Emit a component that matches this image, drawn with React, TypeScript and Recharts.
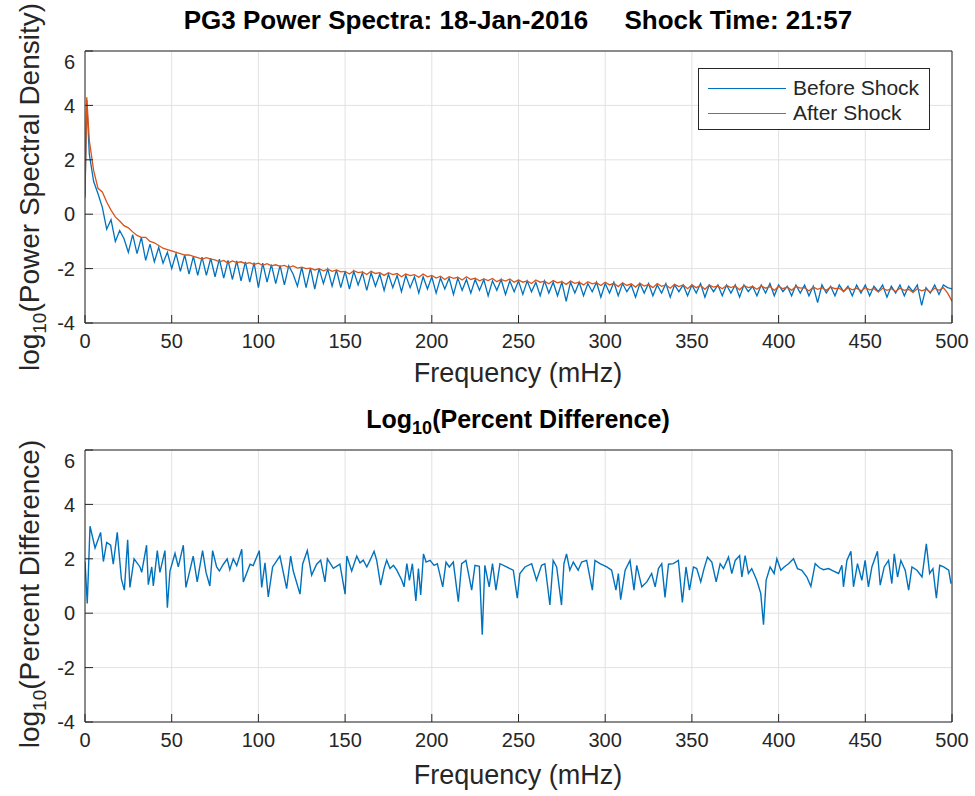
import { LineChart, Line, XAxis, YAxis, CartesianGrid } from 'recharts';

// top panel: shared frequency bins (mHz)
const freq = [0, 1, ...Array.from({ length: 200 }, (_, i) => 2.5 * (i + 1))];

const beforeShock = [
  0.7, 4.2,
  2.2, 1.2, 0.75, 0.25, -0.55, -0.2, -1.0, -0.6, -0.9,
  -1.4, -0.75, -1.45, -0.85, -1.7, -1.1, -1.75, -1.22, -1.8, -1.4,
  -2.0, -1.45, -2.1, -1.5, -2.2, -1.55, -2.25, -1.58, -2.25, -1.62,
  -2.3, -1.65, -2.35, -1.7, -2.4, -1.72, -2.45, -1.75, -2.5, -1.78,
  -2.7, -1.8, -2.5, -1.85, -2.55, -1.88, -2.6, -1.9, -2.2, -2.65,
  -1.95, -2.7, -1.98, -2.75, -2.0, -2.55, -2.02, -2.65, -2.05, -2.7,
  -2.1, -2.75, -2.1, -2.6, -2.15, -2.8, -2.15, -2.65, -2.2, -2.8,
  -2.2, -2.7, -2.25, -2.85, -2.25, -2.7, -2.3, -2.9, -2.3, -2.75,
  -2.3, -2.9, -2.35, -2.75, -2.35, -2.95, -2.35, -2.8, -2.4, -2.9,
  -2.4, -2.8, -2.4, -3.0, -2.45, -2.8, -2.4, -2.95, -2.45, -2.85,
  -2.45, -2.95, -2.45, -2.85, -2.5, -3.0, -2.45, -2.9, -2.5, -3.0,
  -2.5, -3.2, -2.5, -2.9, -2.5, -3.0, -2.55, -2.85, -2.5, -3.05,
  -2.55, -2.9, -2.5, -3.0, -2.55, -2.85, -2.6, -3.05, -2.55, -2.9,
  -2.55, -3.0, -2.6, -2.9, -2.55, -3.05, -2.6, -2.85, -2.6, -3.0,
  -2.6, -2.9, -2.55, -3.05, -2.6, -2.85, -2.6, -3.0, -2.6, -2.9,
  -2.6, -3.05, -2.6, -2.85, -2.65, -3.0, -2.6, -2.9, -2.55, -3.0,
  -2.6, -2.85, -2.65, -3.0, -2.6, -2.9, -2.6, -3.0, -2.65, -3.25,
  -2.6, -2.9, -2.65, -3.0, -2.6, -2.85, -2.65, -3.0, -2.6, -2.9,
  -2.6, -3.0, -2.65, -2.85, -2.6, -3.05, -2.65, -2.9, -2.6, -3.0,
  -2.65, -2.85, -2.6, -3.35, -2.7, -2.9, -2.6, -2.95, -2.6, -2.7,
  -2.75,
];

const afterShock = [
  0.6, 4.3,
  2.7, 1.6, 0.95, 0.82, 0.45, 0.15, -0.1, -0.25, -0.42,
  -0.5, -0.65, -0.78, -0.85, -0.85, -1.0, -1.05, -1.15, -1.25, -1.3,
  -1.35, -1.4, -1.45, -1.5, -1.5, -1.55, -1.6, -1.65, -1.6, -1.65,
  -1.68, -1.75, -1.7, -1.8, -1.72, -1.78, -1.75, -1.82, -1.78, -1.85,
  -1.8, -1.88, -1.82, -1.9, -1.86, -1.92, -1.88, -1.96, -1.9, -1.98,
  -1.95, -2.0, -1.98, -2.05, -2.0, -2.08, -2.02, -2.1, -2.05, -2.12,
  -2.1, -2.2, -2.08, -2.15, -2.12, -2.22, -2.1, -2.18, -2.15, -2.25,
  -2.15, -2.22, -2.18, -2.3, -2.2, -2.26, -2.22, -2.32, -2.2, -2.3,
  -2.25, -2.35, -2.28, -2.4, -2.3, -2.36, -2.32, -2.42, -2.3, -2.4,
  -2.35, -2.45, -2.38, -2.44, -2.36, -2.48, -2.4, -2.46, -2.38, -2.5,
  -2.42, -2.5, -2.45, -2.55, -2.42, -2.5, -2.46, -2.56, -2.44, -2.52,
  -2.48, -2.58, -2.46, -2.54, -2.5, -2.6, -2.48, -2.56, -2.52, -2.62,
  -2.5, -2.6, -2.54, -2.66, -2.52, -2.62, -2.56, -2.68, -2.54, -2.64,
  -2.58, -2.7, -2.55, -2.65, -2.6, -2.72, -2.58, -2.66, -2.6, -2.74,
  -2.6, -2.7, -2.62, -2.76, -2.6, -2.68, -2.64, -2.74, -2.62, -2.7,
  -2.64, -2.78, -2.62, -2.7, -2.66, -2.76, -2.64, -2.72, -2.66, -2.8,
  -2.65, -2.74, -2.68, -2.8, -2.66, -2.72, -2.7, -2.82, -2.68, -2.76,
  -2.7, -2.8, -2.68, -2.74, -2.72, -2.84, -2.7, -2.78, -2.72, -2.82,
  -2.7, -2.78, -2.74, -2.86, -2.72, -2.8, -2.74, -2.84, -2.72, -2.8,
  -2.76, -2.88, -2.74, -2.82, -2.76, -2.86, -2.72, -2.8, -2.7, -2.9,
  -3.2,
];

const diffFreq = [
  0, 1.3, 2.9, 5.8, 9, 10.6, 12.5, 14.8, 16.3, 18.6, 21, 22.7, 24.6, 25.9, 28.3,
  31.7, 32.7, 35.5, 36.5, 38.5, 39.4, 41.7, 43.2, 46.1, 47.5, 49, 51.9, 53.8,
  56.7, 58.2, 62.4, 64.7, 67.8, 69.8, 72, 73.6, 75.9, 77.5, 79.8, 82, 83.5, 85.5,
  87.5, 90.4, 91.3, 95.2, 97, 100.5, 101.9, 103.8, 105.7, 108.2, 112.4, 116.3,
  118.6, 120.1, 124, 125.5, 128.2, 130.7, 133.6, 135.9, 138.4, 139.8, 143.2,
  147, 150, 151, 153.8, 156.7,
  158.6, 160.5, 162.5, 164.4, 166.7, 168.2, 170.5, 172.5, 174, 175.9, 177.9,
  179.8, 182.7, 184, 185.6, 187.1, 188.8, 190.8, 192.3, 193.6, 195.2, 196.7,
  199, 201.3, 203.2, 206.3, 208.2, 210.1, 212.4, 215.3, 217.2, 219.7, 223,
  224.9, 227.4, 229.1, 230.6, 233.1, 235, 237, 239.3, 243.1, 247, 249.3, 250.8,
  253.7, 257.6, 260.4, 263.3, 265.2, 268.1, 270, 272, 274.8, 276.2, 277.7,
  279.6, 281.6, 284.4, 286.4, 289.3, 292.6, 294.1, 297, 300.9, 303.7, 306.2,
  307.6, 308.9, 311.5, 314.3, 316.6, 318.2, 321.1, 324, 326.8, 328.8, 330.7,
  332.6, 334.5, 336.5, 339.3, 342.2,
  344.5, 346.6, 348.6, 350.9, 352.8, 355.1, 357, 359, 361.5, 364, 366.3, 368.2,
  371.1, 373, 375, 377.5, 378.8, 380.7, 382.6, 384.5, 387.4, 389.7, 391.3,
  392.8, 395.1, 397.4, 399, 401.3, 403.2, 405.7, 408.6, 410.9, 413.4, 416.3,
  418.6, 421.1, 423.6, 425.9, 428.8, 431.7, 434.6, 436.5, 437.4, 439.4, 441.7,
  443.2, 445.5, 448, 449.9, 451.8, 453.8, 457, 458.6, 460.9, 463.4, 465.3,
  466.7, 468.6, 470.5, 473, 475, 476.9, 479.8, 482.7, 485.2, 487.1, 489, 491,
  492.9, 495.2, 498.1, 499.4,
];

const diffValue = [
  1.9, 0.36, 3.2, 2.4, 2.97, 1.9, 2.6, 2.5, 1.8, 2.97, 1.25, 0.85, 2.7, 0.95, 2.0,
  1.7, 1.5, 2.5, 1.05, 1.7, 1.0, 2.3, 1.5, 2.3, 0.2, 1.55, 2.2, 1.7,
  2.5, 0.95, 2.1, 1.15, 2.3, 1.5, 1.0, 2.3, 1.7, 1.55, 1.8, 2.0, 1.6, 2.0,
  1.75, 2.35, 1.15, 1.8, 1.75, 2.3, 0.95, 1.85, 0.6, 1.7, 2.1, 0.9,
  2.1, 1.55, 0.7, 1.8, 2.3, 1.4, 1.8, 1.95, 1.15, 2.0, 1.65,
  1.8, 0.7, 2.1, 1.55, 2.1,
  1.85, 1.95, 1.7, 1.95, 2.28, 1.95, 1.03, 1.64, 1.95, 1.64, 1.76,
  1.58, 1.21, 0.97, 1.82, 1.21, 1.82, 0.45, 1.64, 0.67, 2.18, 1.88,
  1.94, 1.76, 1.82, 0.97, 1.88, 1.7, 1.88, 0.42, 1.82, 1.94, 0.85,
  1.76, 1.72, -0.79, 1.76, 0.97, 1.82, 0.85, 1.82, 1.7, 1.58, 0.55, 1.46,
  1.7, 1.82, 1.21, 1.76, 1.82, 0.3, 1.94, 1.7, 0.3, 1.82, 2.18,
  1.58, 1.88, 1.58, 1.88, 1.94, 0.85, 1.94, 1.82, 1.7, 1.58, 0.85,
  1.46, 0.5, 1.58, 1.94, 0.85, 1.76, 0.97, 1.15, 1.46, 0.97, 1.64,
  1.82, 0.58, 1.8, 1.82, 1.94,
  0.4, 1.7, 0.85, 1.7, 1.64, 1.15, 1.64, 2.06, 1.88, 1.15, 1.82, 1.64,
  2.06, 1.46, 1.94, 2.12, 1.33, 2.12, 1.46, 1.64, 1.21, 0.73, -0.42,
  1.21, 1.7, 1.46, 2.0, 1.58, 1.7, 1.82, 2.0, 1.64, 1.58, 1.33,
  0.99, 1.82, 1.67, 1.6, 1.64, 1.55, 1.46, 1.76, 0.97, 1.94, 2.28,
  0.97, 1.82, 1.21, 1.94, 0.97, 1.7, 2.28, 1.03, 1.7, 1.94, 1.09,
  2.18, 1.33, 1.94, 1.58, 0.85, 1.7, 1.58, 1.33, 2.55, 1.46, 1.64, 0.55,
  1.76, 1.7, 1.58, 1.09,
];

const xTicks = [0, 50, 100, 150, 200, 250, 300, 350, 400, 450, 500];
const yTicks = [-4, -2, 0, 2, 4, 6];

const spectra = freq.map((f, i) => ({ f, before: beforeShock[i], after: afterShock[i] }));
const difference = diffFreq.map((f, i) => ({ f, diff: diffValue[i] }));

const BLUE = '#0072BD';
const ORANGE = '#D95319';
const AXIS = '#262626';
const FONT = '"Liberation Sans", Arial, sans-serif';

const tickStyle = { fontSize: 20, fill: AXIS, fontFamily: FONT };

// plot box comes out at 867 x 272 (top axis takes 1px, right axis 1px)
function Panel({ data, ghostKey, children }: { data: any[]; ghostKey: string; children: any }) {
  return (
    <LineChart
      width={975}
      height={310}
      data={data}
      margin={{ top: 0, right: 22, left: 45, bottom: 7 }}
    >
      <CartesianGrid stroke="#e2e2e2" strokeWidth={1} />
      <XAxis
        dataKey="f"
        type="number"
        domain={[0, 500]}
        ticks={xTicks}
        height={30}
        stroke={AXIS}
        tickSize={-8}
        tickMargin={19}
        tick={tickStyle}
        allowDataOverflow
      />
      <XAxis
        xAxisId="top"
        orientation="top"
        dataKey="f"
        type="number"
        domain={[0, 500]}
        ticks={xTicks}
        height={1}
        stroke={AXIS}
        tickSize={-8}
        tick={false}
        allowDataOverflow
      />
      <YAxis
        type="number"
        domain={[-4, 6]}
        ticks={yTicks}
        width={40}
        stroke={AXIS}
        tickSize={-8}
        tickMargin={18}
        tick={tickStyle}
        allowDataOverflow
      />
      <YAxis
        yAxisId="right"
        orientation="right"
        type="number"
        domain={[-4, 6]}
        ticks={yTicks}
        width={1}
        stroke={AXIS}
        tickSize={-8}
        tick={false}
        allowDataOverflow
      />
      {/* invisible copy so the top / right box axes get drawn */}
      <Line
        xAxisId="top"
        yAxisId="right"
        dataKey={ghostKey}
        stroke="none"
        dot={false}
        activeDot={false}
        legendType="none"
        isAnimationActive={false}
      />
      {children}
    </LineChart>
  );
}

const abs = (style: any) => ({ position: 'absolute' as const, fontFamily: FONT, color: AXIS, ...style });

export default function App() {
  return (
    <div style={{ position: 'absolute', left: 0, top: 0, width: 975, height: 796, background: '#fff', overflow: 'hidden' }}>
      <div style={{ position: 'absolute', left: 0, top: 50 }}>
        <Panel data={spectra} ghostKey="before">
          <Line dataKey="before" stroke={BLUE} strokeWidth={1.3} dot={false} isAnimationActive={false} />
          <Line dataKey="after" stroke={ORANGE} strokeWidth={1.3} dot={false} isAnimationActive={false} />
        </Panel>
      </div>
      <div style={{ position: 'absolute', left: 0, top: 449 }}>
        <Panel data={difference} ghostKey="diff">
          <Line dataKey="diff" stroke={BLUE} strokeWidth={1.4} dot={false} isAnimationActive={false} />
        </Panel>
      </div>

      {/* titles */}
      <div style={abs({ left: 0, width: 1036, top: 5, textAlign: 'center', fontSize: 26, fontWeight: 'bold', whiteSpace: 'pre', color: '#000' })}>
        {'PG3 Power Spectra: 18-Jan-2016     Shock Time: 21:57'}
      </div>
      <div style={abs({ left: 0, width: 1036, top: 404, textAlign: 'center', fontSize: 25, fontWeight: 'bold', color: '#000', lineHeight: '30px' })}>
        Log<sub style={{ fontSize: 18, lineHeight: 0 }}>10</sub>(Percent Difference)
      </div>

      {/* x labels */}
      <div style={abs({ left: 0, width: 1036, top: 358, textAlign: 'center', fontSize: 27 })}>Frequency (mHz)</div>
      <div style={abs({ left: 0, width: 1036, top: 760, textAlign: 'center', fontSize: 27 })}>Frequency (mHz)</div>

      {/* y labels */}
      <div style={abs({ left: 30 - 250, top: 187 - 17, width: 500, height: 34, lineHeight: '34px', textAlign: 'center', fontSize: 28, transform: 'rotate(-90deg)', whiteSpace: 'nowrap' })}>
        log<sub style={{ fontSize: 19, lineHeight: 0 }}>10</sub>(Power Spectral Density)
      </div>
      <div style={abs({ left: 30 - 250, top: 594 - 17, width: 500, height: 34, lineHeight: '34px', textAlign: 'center', fontSize: 28, transform: 'rotate(-90deg)', whiteSpace: 'nowrap' })}>
        log<sub style={{ fontSize: 19, lineHeight: 0 }}>10</sub>(Percent Difference)
      </div>

      {/* legend */}
      <div style={abs({ left: 698, top: 68, width: 230, height: 60, border: `1px solid ${AXIS}`, background: '#fff' })}>
        <div style={{ position: 'absolute', left: 9, top: 19, width: 78, borderTop: `1.3px solid ${BLUE}` }} />
        <div style={{ position: 'absolute', left: 9, top: 44, width: 78, borderTop: `1.3px solid ${ORANGE}` }} />
        <div style={{ position: 'absolute', left: 94, top: 7, fontSize: 21 }}>Before Shock</div>
        <div style={{ position: 'absolute', left: 94, top: 32, fontSize: 21 }}>After Shock</div>
      </div>
    </div>
  );
}
